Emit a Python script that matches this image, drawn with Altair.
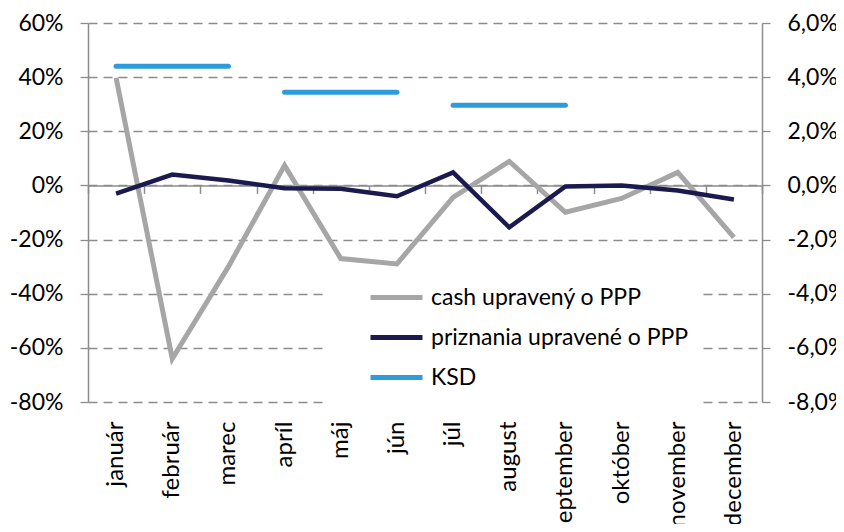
import altair as alt
import pandas as pd

# ---- data ----
months = ["január", "február", "marec", "apríl", "máj", "jún",
          "júl", "august", "september", "október", "november", "december"]

# left axis (cash upravený o PPP)
cash = [0.398, -0.64, -0.30, 0.074, -0.27, -0.29,
        -0.044, 0.089, -0.099, -0.048, 0.048, -0.192]

# right axis (priznania upravené o PPP)
priznania = [-0.0030, 0.0040, 0.0018, -0.0010, -0.0012, -0.0040,
             0.0048, -0.0155, -0.0004, 0.0000, -0.0019, -0.0052]

# right axis (KSD, quarterly values spanning three months each)
ksd_quarters = ["Q1", "Q2", "Q3"]
ksd_values = [0.044, 0.0344, 0.0296]
ksd_months = [months[0:3], months[3:6], months[6:9]]

S_CASH = "cash upravený o PPP"
S_PRIZ = "priznania upravené o PPP"
S_KSD = "KSD"

left_ticks = [-0.8, -0.6, -0.4, -0.2, 0.0, 0.2, 0.4, 0.6]
right_ticks = [-0.08, -0.06, -0.04, -0.02, 0.0, 0.02, 0.04, 0.06]

# ---- tables ----
df_cash = pd.DataFrame({"mesiac": months, "hodnota": cash, "séria": S_CASH})
df_priz = pd.DataFrame({"mesiac": months, "hodnota": priznania, "séria": S_PRIZ})
rows = []
for q, v, ms in zip(ksd_quarters, ksd_values, ksd_months):
    for m in ms:
        rows.append({"mesiac": m, "hodnota": v, "séria": S_KSD, "štvrťrok": q})
df_ksd = pd.DataFrame(rows)

# ---- style ----
FONT = "Lato"
FS_Y = 23
FS_X = 24
FS_L = 23
GRAY = "#8c8c8c"
W, H = 674, 379
zero_offset = -H * 0.8 / 1.4

color = alt.Color(
    "séria:N",
    scale=alt.Scale(domain=[S_CASH, S_PRIZ, S_KSD],
                    range=["#a6a6a6", "#1b1a4f", "#2e9bdc"]),
    legend=alt.Legend(title=None, orient="none", legendX=235, legendY=245,
                      fillColor="white", padding=14,
                      symbolType="M-2,0H2", symbolSize=676,
                      symbolStrokeWidth=5, symbolOffset=44,
                      labelOffset=19, rowPadding=12, labelLimit=500,
                      labelFont=FONT, labelFontSize=FS_L, labelColor="black"),
)

xscale = alt.Scale(type="band", paddingInner=0, paddingOuter=0)

x_labels = alt.X("mesiac:N", sort=months, bandPosition=0.5, scale=xscale, title=None,
                 axis=alt.Axis(orient="bottom", labelAngle=270, labelAlign="right",
                               labelBaseline="middle", labelPadding=19,
                               domain=False, ticks=False, tickSize=0, grid=False,
                               labelFont=FONT, labelFontSize=FS_X, labelColor="black"))

zero_axis = alt.Axis(orient="bottom", offset=zero_offset, labels=False,
                     domain=True, ticks=True, tickBand="extent", tickSize=8,
                     grid=False, domainColor=GRAY, tickColor=GRAY,
                     domainWidth=1.5, tickWidth=1.5)
x_zero = alt.X("mesiac:N", sort=months, bandPosition=0.5, scale=xscale, title=None,
               axis=zero_axis)

y_left = alt.Y("hodnota:Q", title=None,
               scale=alt.Scale(domain=[-0.8, 0.6], nice=False, zero=False),
               axis=alt.Axis(orient="left", values=left_ticks,
                             labelExpr="replace(format(datum.value, '.0%'), '−', '-')",
                             grid=True, gridDash=[9, 6], gridColor=GRAY, gridWidth=1.3,
                             domainColor=GRAY, domainWidth=1.5,
                             tickColor=GRAY, tickWidth=1.3, tickSize=8,
                             labelPadding=17, labelFont=FONT, labelFontSize=FS_Y,
                             labelColor="black"))

right_axis = alt.Axis(orient="right", values=right_ticks,
                      labelExpr="replace(replace(format(datum.value, '.1%'), '.', ','), '−', '-')",
                      grid=False, domainColor=GRAY, domainWidth=1.5,
                      tickColor=GRAY, tickWidth=1.3, tickSize=8,
                      labelPadding=17, labelFont=FONT, labelFontSize=FS_Y,
                      labelColor="black")
y_right = alt.Y("hodnota:Q", title=None,
                scale=alt.Scale(domain=[-0.08, 0.06], nice=False, zero=False),
                axis=right_axis)

cash_layer = alt.Chart(df_cash).mark_line(strokeWidth=5).encode(
    x=x_labels, y=y_left, color=color)

priz_layer = alt.Chart(df_priz).mark_line(strokeWidth=4.5).encode(
    x=x_zero, y=y_right, color=color)

ksd_layer = alt.Chart(df_ksd).mark_line(strokeWidth=5, strokeCap="round").encode(
    x=x_zero, y=y_right, color=color, detail="štvrťrok:N")

right = alt.layer(priz_layer, ksd_layer)

chart = (
    alt.layer(cash_layer, right)
    .resolve_scale(y="independent")
    .resolve_axis(x="independent")
    .properties(width=W, height=H,
                autosize=alt.AutoSizeParams(type="none"),
                padding={"left": 80, "top": 15, "right": 74, "bottom": 122})
    .configure_view(stroke=None)
)

chart.save("out.html", embed_options={"renderer": "svg", "actions": False})
